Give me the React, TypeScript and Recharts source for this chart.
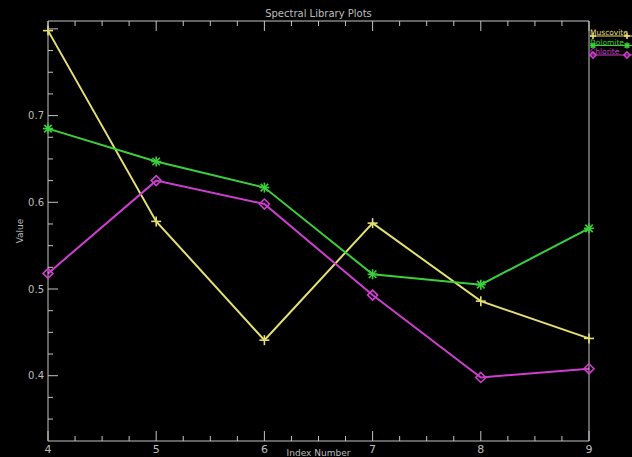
import React from "react";
import { LineChart, Line, XAxis, YAxis } from "recharts";

const indexNumbers = [4, 5, 6, 7, 8, 9];
const muscovite = [0.798, 0.578, 0.441, 0.576, 0.486, 0.443];
const dolomite = [0.685, 0.647, 0.617, 0.517, 0.505, 0.57];
const chlorite = [0.518, 0.625, 0.598, 0.493, 0.398, 0.408];

const xTicks = [4, 4.25, 4.5, 4.75, 5, 5.25, 5.5, 5.75, 6, 6.25, 6.5, 6.75, 7, 7.25, 7.5, 7.75, 8, 8.25, 8.5, 8.75, 9];
const xMajor = [4, 5, 6, 7, 8, 9];
const yTicks = [0.35, 0.375, 0.4, 0.425, 0.45, 0.475, 0.5, 0.525, 0.55, 0.575, 0.6, 0.625, 0.65, 0.675, 0.7, 0.725, 0.75, 0.775, 0.8];
const yMajor = [0.4, 0.5, 0.6, 0.7];

const W = 632;
const H = 457;
const AXIS = "#c4c4c4";
const TEXT = "#bdbdbd";
const FONT = "'DejaVu Sans', sans-serif";

const series = [
  { key: "muscovite", name: "Muscovite", color: "#e6df72", symbol: "plus" },
  { key: "dolomite", name: "Dolomite", color: "#3ccf3c", symbol: "star" },
  { key: "chlorite", name: "Chlorite", color: "#cf3fcf", symbol: "diamond" },
];

const rows = indexNumbers.map((n, i) => ({
  idx: n,
  muscovite: muscovite[i],
  dolomite: dolomite[i],
  chlorite: chlorite[i],
}));

const isMajor = (list: number[], v: number) => list.some((m) => Math.abs(m - v) < 1e-6);

function Symbol({ x, y, type, color, r = 5 }: { x: number; y: number; type: string; color: string; r?: number }) {
  if (type === "plus") {
    return (
      <g stroke={color} strokeWidth={1.6}>
        <line x1={x - r} y1={y} x2={x + r} y2={y} />
        <line x1={x} y1={y - r} x2={x} y2={y + r} />
      </g>
    );
  }
  if (type === "star") {
    const d = r * 0.75;
    return (
      <g stroke={color} strokeWidth={1.6}>
        <line x1={x - r} y1={y} x2={x + r} y2={y} />
        <line x1={x} y1={y - r} x2={x} y2={y + r} />
        <line x1={x - d} y1={y - d} x2={x + d} y2={y + d} />
        <line x1={x - d} y1={y + d} x2={x + d} y2={y - d} />
      </g>
    );
  }
  return (
    <polygon
      points={`${x},${y - r} ${x + r},${y} ${x},${y + r} ${x - r},${y}`}
      fill="none"
      stroke={color}
      strokeWidth={1.6}
    />
  );
}

const makeDot = (type: string, color: string) => (props: any) => {
  const { cx, cy, index } = props;
  if (cx == null || cy == null) return <g key={index} />;
  return <Symbol key={index} x={cx} y={cy} type={type} color={color} />;
};

const BottomTick = ({ x, y, payload }: any) => {
  const major = isMajor(xMajor, payload.value);
  return (
    <g>
      <line x1={x} y1={y} x2={x} y2={y - (major ? 10 : 5)} stroke={AXIS} strokeWidth={1} />
      {major && (
        <text x={x} y={y + 12} textAnchor="middle" fill={TEXT} fontSize={11} fontFamily={FONT}>
          {payload.value}
        </text>
      )}
    </g>
  );
};

const TopTick = ({ x, y, payload }: any) => {
  const major = isMajor(xMajor, payload.value);
  return <line x1={x} y1={y} x2={x} y2={y + (major ? 10 : 5)} stroke={AXIS} strokeWidth={1} />;
};

const LeftTick = ({ x, y, payload }: any) => {
  const major = isMajor(yMajor, payload.value) || Math.abs(payload.value - 0.8) < 1e-6;
  const labeled = isMajor(yMajor, payload.value);
  return (
    <g>
      <line x1={x} y1={y} x2={x + (major ? 10 : 5)} y2={y} stroke={AXIS} strokeWidth={1} />
      {labeled && (
        <text x={x - 4} y={y + 3.5} textAnchor="end" fill={TEXT} fontSize={10} fontFamily={FONT}>
          {payload.value.toFixed(1)}
        </text>
      )}
    </g>
  );
};

const RightTick = ({ x, y, payload }: any) => {
  const major = isMajor(yMajor, payload.value) || Math.abs(payload.value - 0.8) < 1e-6;
  return <line x1={x} y1={y} x2={x - (major ? 10 : 5)} y2={y} stroke={AXIS} strokeWidth={1} />;
};

export default function App() {
  return (
    <div
      style={{
        position: "absolute",
        left: 0,
        top: 0,
        width: W,
        height: H,
        background: "#000",
        overflow: "hidden",
        fontFamily: FONT,
      }}
    >
      <LineChart
        width={W}
        height={H}
        data={rows}
        margin={{ top: 20, right: 42, bottom: 0, left: 0 }}
      >
        <XAxis
          xAxisId="bottom"
          dataKey="idx"
          type="number"
          domain={[4, 9]}
          ticks={xTicks}
          interval={0}
          height={16}
          tickSize={0}
          tickMargin={0}
          tickLine={false}
          axisLine={{ stroke: AXIS, strokeWidth: 1 }}
          tick={<BottomTick />}
          label={{
            content: ({ viewBox }: any) => (
              <text
                x={viewBox.x + viewBox.width / 2}
                y={viewBox.y + 15}
                textAnchor="middle"
                fill={TEXT}
                fontSize={9}
                fontFamily={FONT}
              >
                Index Number
              </text>
            ),
          }}
        />
        <XAxis
          xAxisId="top"
          orientation="top"
          dataKey="idx"
          type="number"
          domain={[4, 9]}
          ticks={xTicks}
          interval={0}
          height={1}
          tickSize={0}
          tickMargin={0}
          tickLine={false}
          axisLine={{ stroke: AXIS, strokeWidth: 1 }}
          tick={<TopTick />}
          label={{
            content: ({ viewBox }: any) => (
              <text
                x={viewBox.x + viewBox.width / 2}
                y={viewBox.y - 3}
                textAnchor="middle"
                fill={TEXT}
                fontSize={10}
                fontFamily={FONT}
              >
                Spectral Library Plots
              </text>
            ),
          }}
        />
        <YAxis
          yAxisId="left"
          type="number"
          domain={[0.3247, 0.8091]}
          ticks={yTicks}
          interval={0}
          width={48}
          tickSize={0}
          tickMargin={0}
          tickLine={false}
          axisLine={{ stroke: AXIS, strokeWidth: 1 }}
          tick={<LeftTick />}
          label={{
            content: ({ viewBox }: any) => {
              const cx = 20;
              const cy = viewBox.y + viewBox.height / 2;
              return (
                <text
                  x={cx}
                  y={cy}
                  transform={`rotate(-90 ${cx} ${cy})`}
                  textAnchor="middle"
                  dominantBaseline="central"
                  fill={TEXT}
                  fontSize={9}
                  fontFamily={FONT}
                >
                  Value
                </text>
              );
            },
          }}
        />
        <YAxis
          yAxisId="right"
          orientation="right"
          type="number"
          domain={[0.3247, 0.8091]}
          ticks={yTicks}
          interval={0}
          width={1}
          tickSize={0}
          tickMargin={0}
          tickLine={false}
          axisLine={{ stroke: AXIS, strokeWidth: 1 }}
          tick={<RightTick />}
        />
        {series.map((s) => (
          <Line
            key={s.key}
            xAxisId="bottom"
            yAxisId="left"
            dataKey={s.key}
            name={s.name}
            stroke={s.color}
            strokeWidth={2}
            dot={makeDot(s.symbol, s.color)}
            activeDot={false}
            isAnimationActive={false}
          />
        ))}
      </LineChart>
      <svg
        width={44}
        height={40}
        style={{ position: "absolute", left: 588, top: 26 }}
      >
        {series.map((s, i) => {
          const y = 9 + i * 9.5;
          return (
            <g key={s.key}>
              <line x1={2} y1={y + 1} x2={44} y2={y + 1} stroke={s.color} strokeWidth={1} />
              <Symbol x={5} y={y + 1} type={s.symbol} color={s.color} r={3} />
              <Symbol x={39} y={y + 1} type={s.symbol} color={s.color} r={3} />
              <text x={2} y={y} fill={s.color} fontSize={7.5} fontFamily={FONT}>
                {s.name}
              </text>
            </g>
          );
        })}
      </svg>
    </div>
  );
}
